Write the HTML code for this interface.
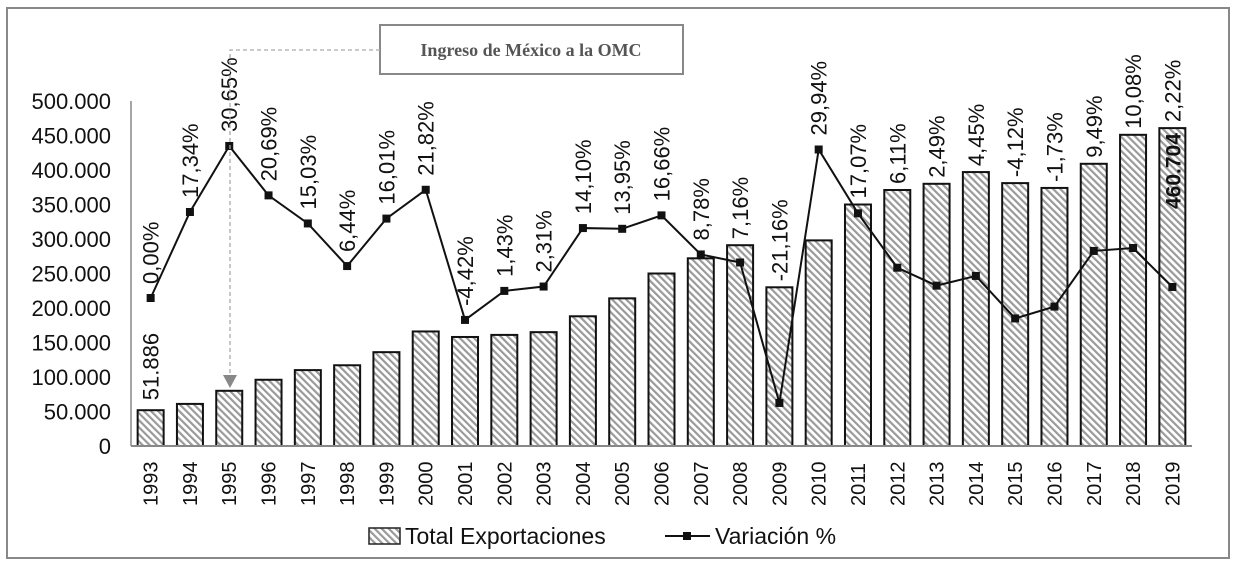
<!DOCTYPE html>
<html><head><meta charset="utf-8"><style>
body{margin:0;background:#fff;font-family:"Liberation Sans",sans-serif}
svg{display:block}
</style></head><body>
<svg id="c" width="1239" height="567">
<defs>
<pattern id="hatch" width="5" height="5" patternUnits="userSpaceOnUse" patternTransform="rotate(-45)">
<rect width="5" height="5" fill="#fff"/><rect width="2.2" height="5" fill="#9a9a9a"/>
</pattern>
</defs>
<rect x="7" y="8" width="1222" height="550" fill="none" stroke="#888" stroke-width="2"/>
<g id="g"></g>
<g>
<rect x="380" y="25" width="303" height="49" fill="#fff" stroke="#888" stroke-width="2"/>
<text x="531" y="56" text-anchor="middle" font-family="Liberation Serif,serif" font-weight="bold" font-size="18" fill="#555">Ingreso de México a la OMC</text>
<polyline points="380,50 230,50 230,375" fill="none" stroke="#aaa" stroke-dasharray="4,3" stroke-width="1.3"/>
<polygon points="223,375 237,375 230,388" fill="#888"/>
</g>
<g>
<rect x="369" y="528" width="31" height="16" fill="url(#hatch)" stroke="#222" stroke-width="1.5"/>
<text x="405" y="544" font-size="23" fill="#111">Total Exportaciones</text>
<line x1="665" y1="536" x2="710" y2="536" stroke="#111" stroke-width="2"/>
<rect x="683" y="532" width="8" height="8" fill="#111"/>
<text x="715" y="544" font-size="23" fill="#111">Variación %</text>
</g>
</svg>
<script>
const years=["1993","1994","1995","1996","1997","1998","1999","2000","2001","2002","2003","2004","2005","2006","2007","2008","2009","2010","2011","2012","2013","2014","2015","2016","2017","2018","2019"];
const exportsK=[51.886,61,80,96,110,117,136,166,158,161,165,188,214,250,272,291,230,298,350,371,380,397,381,374,409,451,460.704];
const variation=[0.00,17.34,30.65,20.69,15.03,6.44,16.01,21.82,-4.42,1.43,2.31,14.10,13.95,16.66,8.78,7.16,-21.16,29.94,17.07,6.11,2.49,4.45,-4.12,-1.73,9.49,10.08,2.22];
const varLabels=["0,00%","17,34%","30,65%","20,69%","15,03%","6,44%","16,01%","21,82%","-4,42%","1,43%","2,31%","14,10%","13,95%","16,66%","8,78%","7,16%","-21,16%","29,94%","17,07%","6,11%","2,49%","4,45%","-4,12%","-1,73%","9,49%","10,08%","2,22%"];
const yTicks=[0,50,100,150,200,250,300,350,400,450,500];
const yTickLabels=["0","50.000","100.000","150.000","200.000","250.000","300.000","350.000","400.000","450.000","500.000"];
const X0=131,X1=1192,Y0=446,Y1=101;
const band=(X1-X0)/years.length;
const x=i=>X0+band*(i+0.5);
const y=v=>Y0-(v/500)*(Y0-Y1);
const yr=v=>298-v*4.96;
const g=document.getElementById('g');
const NS="http://www.w3.org/2000/svg";
function mk(t,a,txt){const e=document.createElementNS(NS,t);for(const k in a)e.setAttribute(k,a[k]);if(txt!=null)e.textContent=txt;g.appendChild(e);return e;}
yTicks.forEach((t,i)=>{const e=mk('text',{x:111,y:y(t)+8,'text-anchor':'end','font-size':22,fill:'#111'},yTickLabels[i]);

});
exportsK.forEach((v,i)=>{const e=mk('rect',{x:x(i)-13,y:y(v),width:26,height:Y0-y(v),fill:'url(#hatch)',stroke:'#111','stroke-width':2});


const t=mk('text',{transform:`translate(${x(i)+7},${Y0+60}) rotate(-90)`,'font-size':20,fill:'#111'},years[i]);

});
let a=mk('line',{x1:X0,y1:Y1,x2:X0,y2:Y0,stroke:'#888','stroke-width':1.5});


a=mk('line',{x1:X0,y1:Y0,x2:X1,y2:Y0,stroke:'#888','stroke-width':2});


const l=mk('polyline',{points:variation.map((v,i)=>x(i)+','+yr(v)).join(' '),fill:'none',stroke:'#111','stroke-width':2});


variation.forEach((v,i)=>{const m=mk('rect',{x:x(i)-4,y:yr(v)-4,width:8,height:8,fill:'#111'});


const base=Math.min(yr(v)-14,y(exportsK[i])-6);
const t=mk('text',{transform:`translate(${x(i)+8},${base}) rotate(-90)`,'font-size':22,fill:'#111'},varLabels[i]);

});
let t=mk('text',{transform:`translate(${x(0)+8},${y(exportsK[0])-10}) rotate(-90)`,'font-size':22,fill:'#111'},"51.886");


const last=exportsK.length-1;
t=mk('text',{transform:`translate(${x(last)+8},${y(exportsK[last])+5}) rotate(-90)`,'font-size':21,'font-weight':'bold','text-anchor':'end',fill:'#111'},"460.704");


</script>
</body></html>
